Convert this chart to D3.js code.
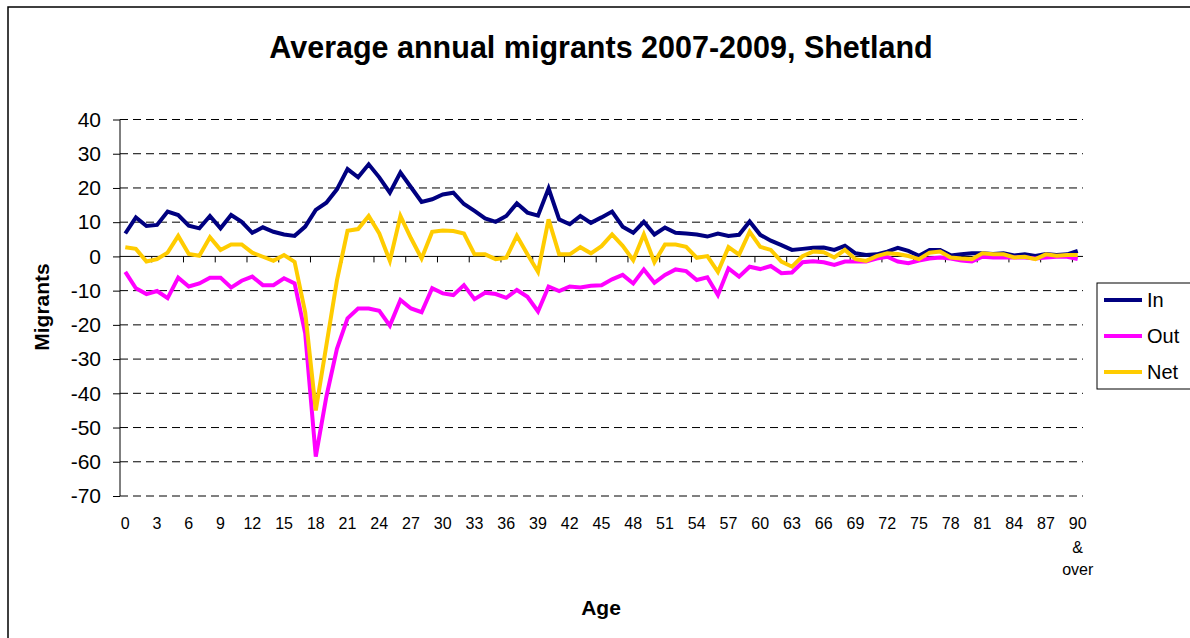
<!DOCTYPE html>
<html>
<head>
<meta charset="utf-8">
<script src="https://cdn.jsdelivr.net/npm/d3@7"></script>
<style>
  body { margin: 0; background: #fff; }
  svg { font-family: "Liberation Sans", Arial, sans-serif; }
</style>
</head>
<body>
<svg id="main-svg" width="1190" height="638"></svg>
<script>
// ages 0..90 ("90 & over")
var ages = d3.range(0, 91);

var inData = [6.7, 11.4, 8.9, 9.2, 13.1, 12.1, 9.0, 8.2, 11.8, 8.2,
  12.1, 10.1, 6.9, 8.5, 7.2, 6.4, 6.0, 8.7, 13.6, 15.7,
  19.6, 25.5, 23.1, 26.9, 23.1, 18.6, 24.5, 20.2, 15.9, 16.7,
  18.1, 18.6, 15.3, 13.3, 11.1, 10.1, 11.8, 15.5, 12.8, 11.9,
  19.9, 10.8, 9.4, 11.8, 9.8, 11.4, 13.1, 8.7, 6.9, 10.1,
  6.4, 8.4, 6.9, 6.7, 6.4, 5.8, 6.7, 6.0, 6.3, 10.2,
  6.3, 4.6, 3.3, 1.9, 2.2, 2.5, 2.6, 1.9, 3.1, 0.9,
  0.4, 0.6, 1.4, 2.5, 1.6, 0.2, 1.9, 1.9, 0.3, 0.6,
  0.9, 0.9, 0.7, 0.9, 0.3, 0.6, 0.1, 0.7, 0.4, 0.6, 1.6];

var outData = [-4.5, -9.3, -11.0, -10.1, -12.2, -6.2, -8.8, -7.9, -6.2, -6.2,
  -9.1, -7.1, -5.9, -8.4, -8.4, -6.4, -7.9, -22.5, -58.5, -41.0,
  -27.0, -18.1, -15.2, -15.2, -15.9, -20.2, -12.7, -15.2, -16.3, -9.3,
  -10.8, -11.3, -8.4, -12.5, -10.6, -11.0, -12.1, -9.8, -11.8, -16.1,
  -8.8, -10.1, -8.8, -9.1, -8.6, -8.4, -6.7, -5.4, -7.9, -3.8,
  -7.7, -5.4, -3.8, -4.3, -6.9, -6.1, -11.3, -3.5, -5.9, -3.0,
  -3.7, -2.8, -4.9, -4.7, -1.7, -1.4, -1.7, -2.5, -1.5, -1.5,
  -1.5, -0.6, -0.1, -1.5, -2.0, -1.2, -0.6, -0.3, -0.6, -1.2,
  -1.5, -0.1, -0.3, -0.3, -0.3, -0.3, -0.6, -0.3, -0.1, -0.1, -0.8];

var netData = [2.7, 2.2, -1.5, -0.8, 1.1, 6.0, 0.7, 0.2, 5.6, 1.9,
  3.5, 3.5, 1.1, -0.1, -1.3, 0.4, -1.6, -16.3, -45.0, -26.0,
  -7.0, 7.5, 8.0, 11.8, 6.7, -1.3, 11.8, 5.3, -0.6, 7.2,
  7.6, 7.4, 6.7, 0.6, 0.6, -0.8, -0.4, 6.0, 0.6, -4.5,
  10.8, 0.6, 0.6, 2.7, 0.9, 3.0, 6.4, 3.1, -1.1, 6.4,
  -1.7, 3.5, 3.5, 2.8, -0.4, 0.1, -4.5, 2.7, 0.5, 7.2,
  2.8, 1.9, -1.5, -3.0, 0.1, 1.4, 1.2, -0.3, 1.9, -0.8,
  -1.3, 0.1, 0.9, 0.7, 0.1, -0.8, 1.1, 1.4, -0.3, -0.6,
  -0.8, 0.9, 0.6, 0.6, -0.3, -0.1, -0.8, 0.6, 0.2, 0.4, 0.4];

var yTicks = [40, 30, 20, 10, 0, -10, -20, -30, -40, -50, -60, -70];
var seriesNames = ["In", "Out", "Net"];
var seriesColors = ["#000080", "#FF00FF", "#FFCC00"];

var svg = d3.select("#main-svg");

// outer chart frame
svg.append("rect").attr("x", 8).attr("y", 7).attr("width", 1300).attr("height", 800)
  .attr("fill", "none").attr("stroke", "#000").attr("stroke-width", 1.5);

var plotLeft = 120, plotRight = 1083, plotTop = 119.5, plotBottom = 496;

var x = d3.scaleBand().domain(ages).range([plotLeft, plotRight]).padding(0);
var y = d3.scaleLinear().domain([-70, 40]).range([plotBottom, plotTop]);
var cx = function(a){ return x(a) + x.bandwidth() / 2; };

// gridlines
svg.append("g").selectAll("line")
  .data(yTicks.filter(function(d){ return d !== 0; }))
  .enter().append("line")
  .attr("x1", plotLeft).attr("x2", plotRight)
  .attr("y1", function(d){ return y(d); }).attr("y2", function(d){ return y(d); })
  .attr("stroke", "#000").attr("stroke-width", 1)
  .attr("stroke-dasharray", "8,5");

// y axis (plain hyphen for negatives, like the original)
var yAxis = d3.axisLeft(y).tickValues(yTicks).tickSize(7).tickPadding(12)
  .tickFormat(function(d){ return String(d); });
var yG = svg.append("g").attr("transform", "translate(" + plotLeft + ",0)").call(yAxis);
yG.select(".domain").attr("stroke", "#000").attr("d", "M0," + y(-70) + "V" + y(40));
yG.selectAll(".tick line").attr("stroke", "#000");
yG.selectAll("text").attr("font-size", 21).attr("fill", "#000")
  .attr("font-family", "Liberation Sans, Arial, sans-serif");

// x axis along zero line: ticks on category boundaries every 3
svg.append("line").attr("x1", plotLeft).attr("x2", plotRight)
  .attr("y1", y(0)).attr("y2", y(0)).attr("stroke", "#000").attr("stroke-width", 1);
svg.append("g").selectAll("line")
  .data(ages.filter(function(a){ return a % 3 === 0 && a > 0; }))
  .enter().append("line")
  .attr("x1", function(a){ return x(a); }).attr("x2", function(a){ return x(a); })
  .attr("y1", y(0)).attr("y2", y(0) + 6)
  .attr("stroke", "#000");

// x tick labels at bottom
svg.append("g").selectAll("text")
  .data(ages.filter(function(a){ return a % 3 === 0; }))
  .enter().append("text")
  .attr("x", function(a){ return cx(a); })
  .attr("y", 529)
  .attr("text-anchor", "middle")
  .attr("font-size", 16)
  .text(function(a){ return a; });
svg.append("text").attr("x", cx(90)).attr("y", 553).attr("text-anchor", "middle")
  .attr("font-size", 16).text("&");
svg.append("text").attr("x", cx(90)).attr("y", 575).attr("text-anchor", "middle")
  .attr("font-size", 16).text("over");

// lines
var allSeries = [inData, outData, netData];
var line = d3.line()
  .x(function(d, i){ return cx(ages[i]); })
  .y(function(d){ return y(d); });

svg.append("g").selectAll("path")
  .data(allSeries)
  .enter().append("path")
  .attr("d", function(d){ return line(d); })
  .attr("fill", "none")
  .attr("stroke", function(d, i){ return seriesColors[i]; })
  .attr("stroke-width", 4)
  .attr("stroke-linejoin", "miter");

// title and axis titles
svg.append("text").attr("x", 601).attr("y", 58).attr("text-anchor", "middle")
  .attr("font-size", 30.5).attr("font-weight", "bold")
  .text("Average annual migrants 2007-2009, Shetland");
svg.append("text").attr("transform", "translate(49,307) rotate(-90)")
  .attr("text-anchor", "middle").attr("font-size", 21).attr("font-weight", "bold")
  .text("Migrants");
svg.append("text").attr("x", 601).attr("y", 615).attr("text-anchor", "middle")
  .attr("font-size", 21).attr("font-weight", "bold").text("Age");

// legend
var legend = svg.append("g");
legend.append("rect").attr("x", 1097).attr("y", 283).attr("width", 120).attr("height", 106)
  .attr("fill", "#fff").attr("stroke", "#000").attr("stroke-width", 1);
var entry = legend.selectAll("g.entry").data(seriesNames).enter().append("g")
  .attr("class", "entry")
  .attr("transform", function(d, i){ return "translate(0," + (300 + i * 36) + ")"; });
entry.append("line").attr("x1", 1104).attr("x2", 1142).attr("y1", 0).attr("y2", 0)
  .attr("stroke", function(d, i){ return seriesColors[i]; }).attr("stroke-width", 4);
entry.append("text").attr("x", 1147).attr("y", 7).attr("font-size", 20).text(function(d){ return d; });
</script>
</body>
</html>
